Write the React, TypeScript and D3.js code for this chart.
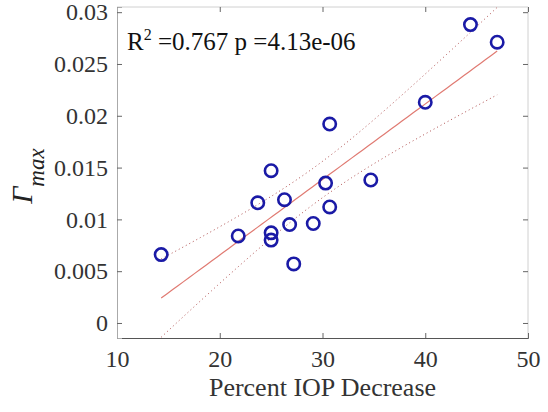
import React, { useEffect, useRef } from 'react';
import * as d3 from 'd3';

// Percent IOP decrease (x) vs Gamma max (y)
const iopDecrease = [14.3, 21.8, 23.7, 25.0, 25.0, 25.0, 26.3, 26.8, 27.2, 29.1, 30.3, 30.7, 30.7, 34.7, 40.0, 44.4, 47.0];
const gammaMax = [0.0066, 0.0084, 0.0116, 0.0147, 0.0087, 0.0080, 0.0119, 0.0095, 0.0057, 0.0096, 0.0135, 0.0192, 0.0112, 0.0138, 0.0213, 0.0288, 0.0271];

const xTicks = [10, 20, 30, 40, 50];
const yTicks = [0, 0.005, 0.01, 0.015, 0.02, 0.025, 0.03];
const yTickLabels = ['0', '0.005', '0.01', '0.015', '0.02', '0.025', '0.03'];

const statsText = { r2: '0.767', p: '4.13e-06' };

const W = 548;
const H = 412;

export default function App() {
  const svgRef = useRef<SVGSVGElement>(null);

  useEffect(() => {
    if (!svgRef.current) return;
    const svg = d3.select(svgRef.current);
    svg.selectAll('*').remove();

    const margin = { top: 7, right: 20, bottom: 74, left: 117 };
    const innerW = W - margin.left - margin.right;
    const innerH = H - margin.top - margin.bottom;

    const x = d3.scaleLinear().domain([10, 50]).range([0, innerW]);
    const y = d3.scaleLinear().domain([-0.00145, 0.0305]).range([innerH, 0]);

    const g = svg.append('g').attr('transform', `translate(${margin.left},${margin.top})`);

    svg.append('defs').append('clipPath').attr('id', 'plot-clip')
      .append('rect').attr('width', innerW).attr('height', innerH);

    // box
    g.append('line').attr('x1', 0).attr('x2', innerW).attr('y1', 0).attr('y2', 0).attr('stroke', '#d0d0d0');
    g.append('line').attr('x1', innerW).attr('x2', innerW).attr('y1', 0).attr('y2', innerH).attr('stroke', '#d0d0d0');

    const font = 'Liberation Serif';

    // bottom axis
    const xAxis = g.append('g').attr('transform', `translate(0,${innerH})`)
      .call(d3.axisBottom(x).tickValues(xTicks).tickSize(-5).tickPadding(12).tickFormat(d3.format('d')))
      .attr('font-family', font).attr('font-size', 24);
    xAxis.select('.domain').attr('stroke', '#555');
    xAxis.selectAll('.tick line').attr('stroke', '#666');
    xAxis.selectAll('text').style('font-family', font).attr('fill', '#333');

    // top ticks
    g.append('g').call(d3.axisTop(x).tickValues(xTicks).tickSize(-5).tickFormat(() => ''))
      .call(a => a.select('.domain').remove())
      .selectAll('.tick line').attr('stroke', '#666');

    // left axis
    const yAxis = g.append('g')
      .call(d3.axisLeft(y).tickValues(yTicks).tickSize(-5).tickPadding(9).tickFormat((_, i) => yTickLabels[i]))
      .attr('font-family', font).attr('font-size', 24);
    yAxis.select('.domain').attr('stroke', '#aaa');
    yAxis.selectAll('.tick line').attr('stroke', '#666');
    yAxis.selectAll('text').style('font-family', font).attr('fill', '#333');

    // right ticks
    g.append('g').attr('transform', `translate(${innerW},0)`)
      .call(d3.axisRight(y).tickValues(yTicks).tickSize(-5).tickFormat(() => ''))
      .call(a => a.select('.domain').remove())
      .selectAll('.tick line').attr('stroke', '#666');

    // linear regression with 95% confidence band
    const n = iopDecrease.length;
    const mx = d3.mean(iopDecrease) as number;
    const my = d3.mean(gammaMax) as number;
    const sxx = d3.sum(iopDecrease, v => (v - mx) ** 2);
    const sxy = d3.sum(iopDecrease, (v, i) => (v - mx) * (gammaMax[i] - my));
    const slope = sxy / sxx;
    const intercept = my - slope * mx;
    const sse = d3.sum(iopDecrease, (v, i) => (gammaMax[i] - (intercept + slope * v)) ** 2);
    const s = Math.sqrt(sse / (n - 2));
    const t = 2.131; // t(0.975, 15)
    const x0 = d3.min(iopDecrease) as number;
    const x1 = d3.max(iopDecrease) as number;
    const xs = d3.range(0, 61).map(i => x0 + ((x1 - x0) * i) / 60);
    const fit = (v: number) => intercept + slope * v;
    const half = (v: number) => t * s * Math.sqrt(1 / n + (v - mx) ** 2 / sxx);

    const plot = g.append('g').attr('clip-path', 'url(#plot-clip)');

    plot.append('path').datum(xs)
      .attr('fill', 'none').attr('stroke', '#e07a72').attr('stroke-width', 1.2)
      .attr('d', d3.line<number>().x(v => x(v)).y(v => y(fit(v))));
    [1, -1].forEach(sign => {
      plot.append('path').datum(xs)
        .attr('fill', 'none').attr('stroke', '#b05050').attr('stroke-width', 1)
        .attr('stroke-dasharray', '1,3')
        .attr('d', d3.line<number>().x(v => x(v)).y(v => y(fit(v) + sign * half(v))));
    });

    // points
    g.append('g').selectAll('circle')
      .data(iopDecrease)
      .join('circle')
      .attr('cx', d => x(d))
      .attr('cy', (_, i) => y(gammaMax[i]))
      .attr('r', 6.2)
      .attr('fill', 'none')
      .attr('stroke', '#1a1aa6')
      .attr('stroke-width', 2.6);

    // stats annotation
    const st = g.append('text')
      .attr('x', 10).attr('y', 43)
      .style('font-family', font).attr('font-size', 25).attr('fill', '#111');
    st.append('tspan').text('R');
    st.append('tspan').attr('font-size', 16).attr('dy', -10).text('2');
    st.append('tspan').attr('dy', 10).text(` =${statsText.r2} p =${statsText.p}`);

    // x label
    svg.append('text')
      .attr('x', margin.left + innerW / 2).attr('y', 396)
      .attr('text-anchor', 'middle')
      .style('font-family', font).attr('font-size', 26).attr('fill', '#333')
      .text('Percent IOP Decrease');

    // y label
    const yl = svg.append('text')
      .attr('transform', 'translate(32,176) rotate(-90)')
      .attr('text-anchor', 'middle')
      .style('font-family', font).attr('font-style', 'italic').attr('font-size', 30).attr('fill', '#222');
    yl.append('tspan').text('Γ');
    yl.append('tspan').attr('font-size', 23).attr('dy', 12).text('max');
  }, []);

  return (
    <div style={{ position: 'absolute', left: 0, top: 0 }}>
      <svg ref={svgRef} width={W} height={H} style={{ display: 'block', background: '#fff' }} />
    </div>
  );
}
